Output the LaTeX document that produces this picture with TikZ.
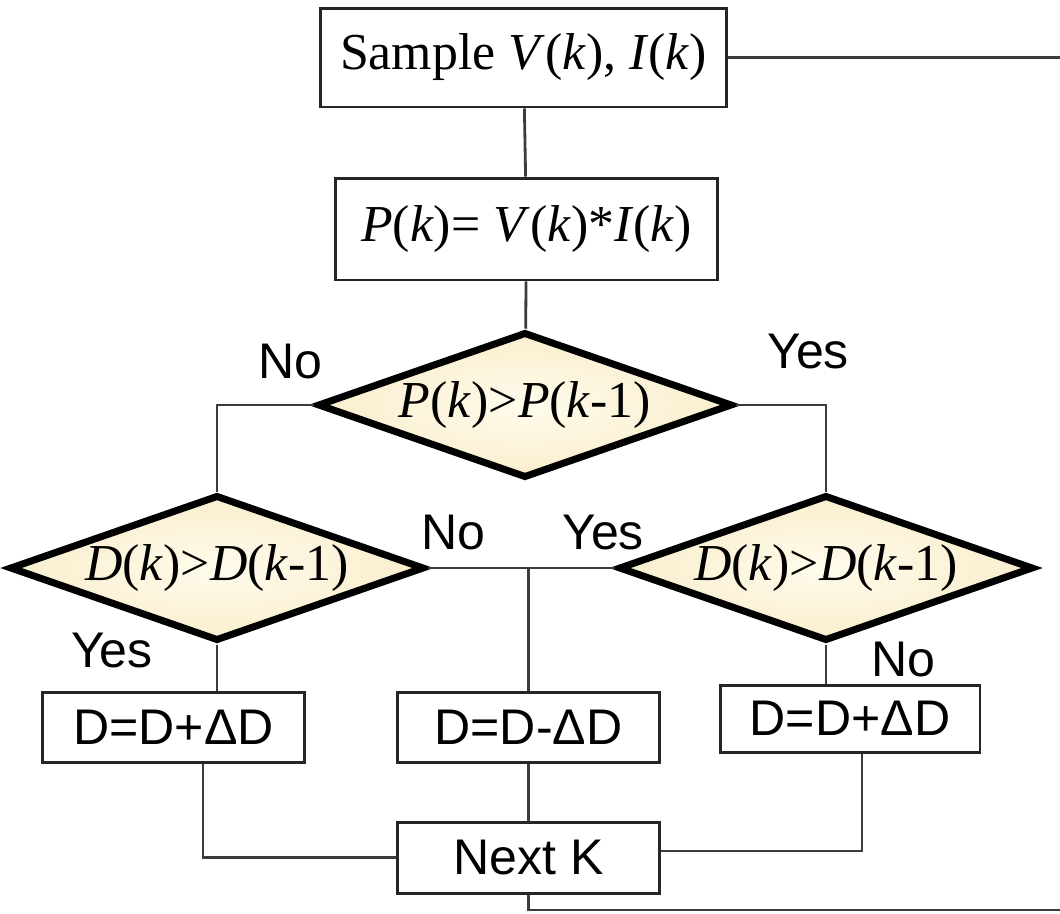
\documentclass[tikz,border=0pt]{standalone}
\usepackage{fontspec}
\setmainfont{Liberation Serif}
\setsansfont{Liberation Sans}
\usetikzlibrary{shapes.geometric,calc}
\definecolor{creamin}{RGB}{255,251,236}
\definecolor{creamout}{RGB}{249,238,205}
\definecolor{wire}{RGB}{60,60,60}

\begin{document}
\begin{tikzpicture}[x=0.02cm,y=-0.02cm,
    font=\fontsize{29.5}{33}\selectfont,
    block/.style={draw=black!85,line width=1.7pt,fill=white,inner sep=0pt},
    action/.style={block,font=\sffamily\fontsize{28.5}{32}\selectfont},
    decision/.style={diamond,draw=black,line width=4pt,inner sep=0pt,aspect=2.84,
      shading=radial,inner color=creamin,outer color=creamout,
      minimum width=8.3cm,minimum height=2.92cm},
    wire/.style={draw=wire,line width=1.6pt},
    tag/.style={font=\sffamily\fontsize{28.5}{32}\selectfont,inner sep=0pt}]
    \useasboundingbox (0,0) rectangle (1060,913);

    \node[block,minimum width=8.14cm,minimum height=1.98cm] (sample) at (523.5,57.5)
      {Sample \textit{V}(\textit{k}), \textit{I}(\textit{k})};
    \node[block,minimum width=7.66cm,minimum height=2.04cm] (power) at (526.5,229)
      {\textit{P}(\textit{k})= \textit{V}(\textit{k})*\textit{I}(\textit{k})};

    \node[decision] (dp) at (525,405) {\textit{P}(\textit{k})>\textit{P}(\textit{k}-1)};
    \node[decision] (dl) at (217,568) {\textit{D}(\textit{k})>\textit{D}(\textit{k}-1)};
    \node[decision] (dr) at (826,568) {\textit{D}(\textit{k})>\textit{D}(\textit{k}-1)};

    \node[action,minimum width=5.26cm,minimum height=1.4cm] (incl) at (173.5,727) {D=D+ΔD};
    \node[action,minimum width=5.26cm,minimum height=1.4cm] (decm) at (528.5,727) {D=D-ΔD};
    \node[action,minimum width=5.2cm,minimum height=1.34cm] (incr) at (850,718.5) {D=D+ΔD};
    \node[action,minimum width=5.26cm,minimum height=1.42cm] (next) at (528.5,857.5) {Next K};

    \coordinate (back) at (1060,910);

    % connectors
    \draw[wire] (sample.east) -- (sample.east -| back);
    \draw[wire] (sample) -- (power);
    \draw[wire] (power) -- (dp);
    \draw[wire] (dp.west) -| (dl.north);
    \draw[wire] (dp.east) -| (dr.north);
    \draw[wire] (dl.east) -- (dr.west);
    \draw[wire] (decm.north) -- (decm.north |- dl.east);
    \draw[wire] (dl.south) -- (dl.south |- incl.north);
    \draw[wire] (dr.south) -- (dr.south |- incr.north);
    \draw[wire] ([xshift=0.59cm]incl.south) |- (next.west);
    \draw[wire] (decm) -- (next);
    \draw[wire] ([xshift=0.24cm]incr.south) |- ([yshift=0.13cm]next.east);
    \draw[wire] (next.south) |- (back);

    \node[tag] at (290,362) {No};
    \node[tag] at (808,352) {Yes};
    \node[tag] at (453,533) {No};
    \node[tag] at (603,533) {Yes};
    \node[tag] at (112,651) {Yes};
    \node[tag] at (903,660) {No};
\end{tikzpicture}
\end{document}
